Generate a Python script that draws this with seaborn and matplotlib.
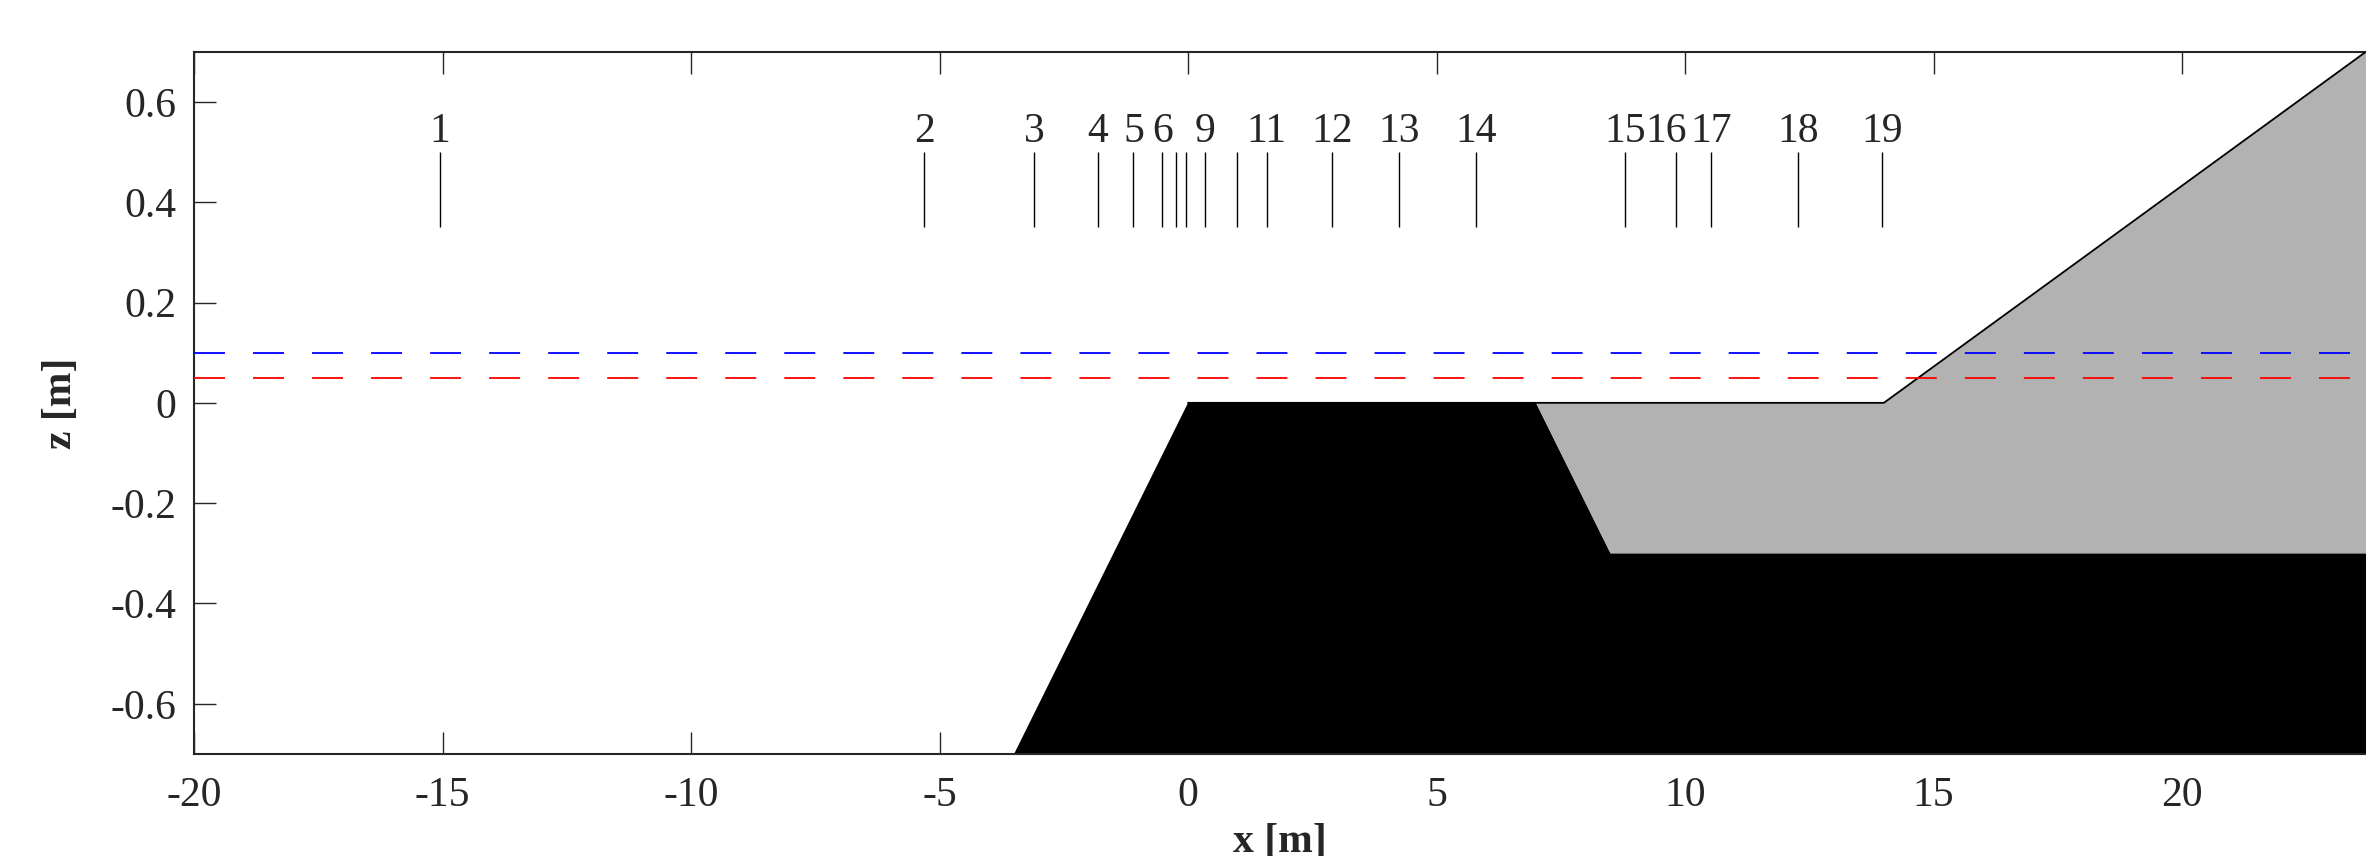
# plot.py

import seaborn as sns
import matplotlib.pyplot as plt
import pandas as pd
import numpy as np

sns.set_style("ticks")
plt.rcParams['font.family'] = ['Liberation Serif', 'DejaVu Serif']
plt.rcParams['axes.unicode_minus'] = False
plt.rcParams['lines.scale_dashes'] = False

# wave gauge positions (x in m)
gauge_ids = list(range(1, 20))
gauge_x = [-15.05, -5.31, -3.10, -1.81, -1.10, -0.52, -0.24, -0.04, 0.35, 0.99,
           1.58, 2.90, 4.25, 5.79, 8.80, 9.82, 10.53, 12.28, 13.97]
hidden_labels = [7, 8, 10]
label_shift = {16: -0.2}

# impermeable core (black)
core_x = [-3.5, 0.0, 7.0, 8.5, 23.7, 23.7]
core_z = [-0.7, 0.0, 0.0, -0.3, -0.3, -0.7]

# permeable fill / beach (grey)
fill_x = [7.0, 14.0, 23.7, 23.7, 8.5]
fill_z = [0.0, 0.0, 0.7, -0.3, -0.3]

# surface outline
surf_x = [0.0, 14.0, 23.7]
surf_z = [0.0, 0.0, 0.7]

# still water levels
levels = [0.1, 0.05]
level_colors = ['#0000ff', '#ff0000']

fig = plt.figure(figsize=(23.66, 8.56), dpi=100)
ax = fig.add_axes([0.0820, 0.1192, 0.9180, 0.8204])

ax.fill(core_x, core_z, color='black', zorder=2, lw=0)
ax.fill(fill_x, fill_z, color='#b2b2b2', zorder=2, lw=0)
surf = pd.DataFrame({'x': surf_x, 'z': surf_z})
sns.lineplot(data=surf, x='x', y='z', color='black', lw=1.3, sort=False,
             estimator=None, ax=ax, zorder=3)

for lev, col in zip(levels, level_colors):
    ax.axhline(lev, color=col, lw=1.3, dashes=(22.3, 20.2), zorder=4)

ax.vlines(gauge_x, 0.35, 0.5, color='black', lw=1.0, zorder=3)
for gid, gx in zip(gauge_ids, gauge_x):
    if gid in hidden_labels:
        continue
    ax.text(gx + label_shift.get(gid, 0.0), 0.52, str(gid), ha='center',
            va='baseline', fontsize=30)

ax.set_xlim(-20, 23.7)
ax.set_ylim(-0.7, 0.7)
ax.set_xticks(np.arange(-20, 21, 5))
ax.set_yticks([-0.6, -0.4, -0.2, 0, 0.2, 0.4, 0.6])
ax.set_yticklabels(['-0.6', '-0.4', '-0.2', '0', '0.2', '0.4', '0.6'])
ax.tick_params(direction='in', length=16, width=1.0, top=True, right=False,
               labelsize=30)
ax.tick_params(axis='x', pad=16)
ax.tick_params(axis='y', pad=13)
for side in ['left', 'top', 'bottom']:
    ax.spines[side].set_linewidth(1.5)
ax.spines['right'].set_visible(False)

ax.set_xlabel('x [m]', fontsize=30, fontweight='bold', labelpad=6)
ax.set_ylabel('z [m]', fontsize=30, fontweight='bold', labelpad=22)

fig.savefig('out.png', dpi=100)
